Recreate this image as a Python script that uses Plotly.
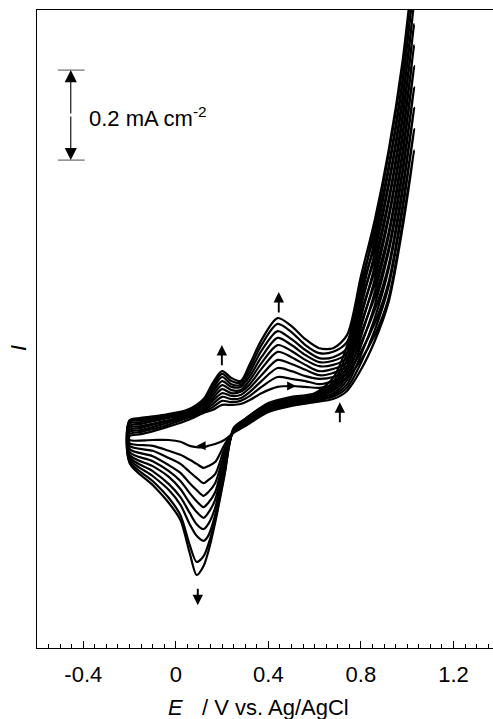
import plotly.graph_objects as go

# Potentials (V vs. Ag/AgCl) of the knots on the forward (anodic) and reverse (cathodic) sweeps
E_fwd = [-0.2, -0.15, -0.05, 0.05, 0.12, 0.16, 0.2, 0.24, 0.28, 0.32, 0.37, 0.44,
         0.5, 0.56, 0.62, 0.68, 0.74, 0.8, 0.86, 0.92, 0.98, 1.03]
E_rev = [0.98, 0.92, 0.86, 0.8, 0.74, 0.68, 0.6, 0.5, 0.4, 0.3, 0.25, 0.21, 0.17,
         0.14, 0.12, 0.09, 0.06, 0.02, -0.03, -0.1, -0.2]

# Current density (mA cm^-2, arbitrary zero) for cycles 1..10, forward sweep
i_fwd_01 = [.009, .013, .027, .044, .060, .067, .078, .078, .080, .089, .104, .118, .120, .118, .116, .122, .138, .178, .233, .316, .482, .644]
i_fwd_02 = [.013, .018, .031, .049, .062, .073, .087, .084, .087, .098, .118, .140, .136, .131, .124, .131, .147, .196, .260, .351, .522, .691]
i_fwd_03 = [.018, .022, .036, .051, .064, .080, .096, .091, .093, .107, .131, .160, .153, .142, .136, .140, .156, .216, .289, .389, .562, .738]
i_fwd_04 = [.022, .027, .040, .053, .067, .087, .104, .098, .100, .116, .144, .178, .169, .156, .144, .149, .164, .238, .318, .427, .602, .784]
i_fwd_05 = [.027, .031, .042, .056, .069, .093, .113, .104, .107, .124, .158, .196, .184, .167, .153, .158, .173, .260, .347, .462, .642, .831]
i_fwd_06 = [.031, .036, .047, .058, .073, .100, .122, .111, .111, .133, .171, .211, .198, .178, .164, .167, .182, .284, .376, .500, .682, .878]
i_fwd_07 = [.036, .040, .049, .060, .078, .107, .131, .118, .118, .142, .184, .227, .211, .189, .173, .176, .193, .309, .404, .536, .722, .924]
i_fwd_08 = [.040, .044, .051, .062, .082, .113, .140, .124, .122, .151, .198, .242, .224, .200, .182, .184, .204, .333, .433, .573, .762, .971]
i_fwd_09 = [.042, .047, .053, .064, .087, .120, .147, .131, .127, .160, .211, .258, .240, .211, .193, .196, .218, .349, .462, .609, .802, 1.020]
i_fwd_10 = [.044, .049, .056, .067, .091, .127, .153, .138, .131, .169, .222, .271, .253, .224, .204, .204, .233, .364, .489, .644, .842, 1.067]

# Reverse sweep
i_rev_01 = [.471, .307, .220, .156, .109, .091, .084, .076, .062, .031, .016, 0.0, -.009, -.013, -.016, -.016, -.013, -.004, 0.0, 0.0, 0.0]
i_rev_02 = [.511, .342, .244, .171, .116, .096, .087, .078, .064, .033, .018, -.011, -.049, -.058, -.062, -.053, -.044, -.033, -.024, -.013, -.007]
i_rev_03 = [.551, .380, .271, .189, .124, .100, .089, .080, .067, .036, .018, -.020, -.076, -.089, -.096, -.084, -.071, -.053, -.040, -.024, -.013]
i_rev_04 = [.591, .418, .300, .209, .133, .104, .091, .082, .069, .038, .020, -.031, -.096, -.116, -.124, -.111, -.096, -.073, -.056, -.036, -.020]
i_rev_05 = [.631, .453, .329, .229, .142, .109, .093, .084, .071, .040, .020, -.040, -.116, -.140, -.149, -.136, -.118, -.091, -.069, -.047, -.027]
i_rev_06 = [.671, .491, .358, .251, .153, .113, .096, .087, .073, .042, .022, -.049, -.133, -.162, -.173, -.160, -.140, -.109, -.082, -.058, -.033]
i_rev_07 = [.711, .527, .387, .273, .164, .118, .098, .089, .076, .044, .022, -.058, -.151, -.187, -.198, -.187, -.162, -.127, -.098, -.069, -.038]
i_rev_08 = [.751, .564, .416, .296, .178, .122, .100, .091, .078, .044, .024, -.067, -.167, -.213, -.224, -.213, -.187, -.144, -.111, -.080, -.042]
i_rev_09 = [.791, .600, .444, .316, .193, .129, .102, .093, .080, .047, .024, -.076, -.178, -.233, -.258, -.271, -.233, -.167, -.129, -.091, -.047]
i_rev_10 = [.831, .636, .473, .336, .209, .138, .104, .096, .082, .047, .027, -.080, -.184, -.249, -.280, -.300, -.251, -.178, -.140, -.100, -.051]

tick_vals = [-0.4, 0.0, 0.4, 0.8, 1.2]
tick_text = ["-0.4", "0", "0.4", "0.8", "1.2"]

forward = [i_fwd_01, i_fwd_02, i_fwd_03, i_fwd_04, i_fwd_05,
           i_fwd_06, i_fwd_07, i_fwd_08, i_fwd_09, i_fwd_10]
reverse = [i_rev_01, i_rev_02, i_rev_03, i_rev_04, i_rev_05,
           i_rev_06, i_rev_07, i_rev_08, i_rev_09, i_rev_10]

FONT = "Liberation Sans, Arial, Helvetica, sans-serif"

fig = go.Figure()
for f, r in zip(forward, reverse):
    xs = E_fwd + E_rev + [E_fwd[0]]
    ys = f + r + [f[0]]
    fig.add_trace(go.Scatter(x=xs, y=ys, mode="lines",
                             line=dict(color="black", width=2.2, shape="spline", smoothing=0.8),
                             hoverinfo="skip"))

fig.update_xaxes(range=[-0.6, 1.371], showgrid=False, zeroline=False,
                 showline=True, linecolor="black", linewidth=1.3, mirror=True,
                 ticks="inside", ticklen=7, tickwidth=1.2, tickcolor="black",
                 tickvals=tick_vals, ticktext=tick_text,
                 tickfont=dict(family=FONT, size=22, color="black"),
                 ticklabelstandoff=6,
                 minor=dict(ticks="inside", ticklen=3.5, tickwidth=1, tickcolor="black",
                            tick0=-0.6, dtick=0.05))
fig.update_yaxes(range=[-0.4622, 0.9556], showgrid=False, zeroline=False,
                 showline=True, linecolor="black", linewidth=1.3, mirror=False,
                 showticklabels=False, ticks="")

ann = []
# axis titles
ann.append(dict(x=0.0, y=-0.094, xref="x", yref="paper", text="<i>E</i>", showarrow=False,
                xanchor="center", yanchor="middle", font=dict(family=FONT, size=22)))
ann.append(dict(x=0.104, y=-0.094, xref="x", yref="paper", text="/ V vs. Ag/AgCl", showarrow=False,
                xanchor="left", yanchor="middle", font=dict(family=FONT, size=22)))
ann.append(dict(x=-0.042, y=0.47, xref="paper", yref="paper", text="<i>I</i>", showarrow=False,
                textangle=-90, xanchor="center", yanchor="middle", font=dict(family=FONT, size=22)))

# scale bar 0.2 mA cm-2
bar_x, bar_lo, bar_hi = -0.454, 0.622, 0.822
mid = (bar_lo + bar_hi) / 2
for head in (bar_hi, bar_lo):
    ann.append(dict(x=bar_x, y=head, ax=bar_x, ay=mid, xref="x", yref="y", axref="x", ayref="y",
                    text="", showarrow=True, arrowhead=2, arrowsize=2.2, arrowwidth=1.1,
                    arrowcolor="black"))
ann.append(dict(x=-0.385, y=0.718, xref="x", yref="y", text="0.2 mA cm<sup>-2</sup>",
                showarrow=False, xanchor="left", yanchor="middle", font=dict(family=FONT, size=22)))

# arrows showing growth with cycling
for (hx, hy, ty) in [(0.199, 0.211, 0.163), (0.445, 0.329, 0.280), (0.709, 0.084, 0.036),
                     (0.095, -0.367, -0.327)]:
    ann.append(dict(x=hx, y=hy, ax=hx, ay=ty, xref="x", yref="y", axref="x", ayref="y",
                    text="", showarrow=True, arrowhead=2, arrowsize=1.1, arrowwidth=1.9,
                    arrowcolor="black"))

# small sweep-direction arrowheads on the first cycle
ann.append(dict(x=0.52, y=0.120, ax=-9, ay=0, xref="x", yref="y", text="", showarrow=True,
                arrowhead=2, arrowsize=1.2, arrowwidth=1.5, arrowcolor="black"))
ann.append(dict(x=0.09, y=-0.013, ax=9, ay=0, xref="x", yref="y", text="", showarrow=True,
                arrowhead=2, arrowsize=1.2, arrowwidth=1.5, arrowcolor="black"))

shapes = []
for yv in (bar_lo, bar_hi):
    shapes.append(dict(type="line", xref="x", yref="y", x0=-0.510, x1=-0.394, y0=yv, y1=yv,
                       line=dict(color="#777777", width=1.3)))

fig.update_layout(width=493, height=719, margin=dict(l=37, r=0, t=10, b=71),
                  plot_bgcolor="white", paper_bgcolor="white", showlegend=False,
                  font=dict(family=FONT, size=22, color="black"),
                  annotations=ann, shapes=shapes)

fig.write_html("out.html")
